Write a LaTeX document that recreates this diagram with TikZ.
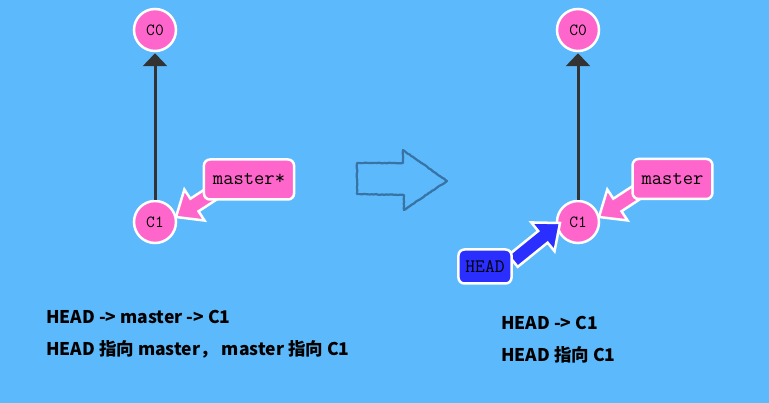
\documentclass[tikz,border=0pt]{standalone}
\usepackage{fontspec}
\newfontfamily\cjk{Noto Sans CJK SC}
\usetikzlibrary{calc,arrows.meta,decorations.pathmorphing}
\definecolor{bgc}{RGB}{92,186,252}
\definecolor{pinkc}{RGB}{255,102,204}
\definecolor{bluec}{RGB}{42,46,255}
\definecolor{edgec}{RGB}{51,51,51}
\definecolor{sketchc}{RGB}{55,115,165}
\pgfdeclarelayer{lowlayer}
\pgfdeclarelayer{midlayer}
\pgfsetlayers{lowlayer,midlayer,main}
\tikzset{
  commit/.style={circle, fill=pinkc, draw=white, line width=2.5pt, minimum size=42pt, inner sep=0pt,
    font=\ttfamily\fontsize{17}{17}\selectfont},
  branch/.style={rounded corners=6pt, draw=white, line width=2.5pt, fill=pinkc, minimum height=40pt,
    inner xsep=9pt, font=\ttfamily\fontsize{20}{20}\selectfont},
  headbox/.style={branch, fill=bluec, minimum height=34pt, inner xsep=7pt, font=\ttfamily\fontsize{19}{19}\selectfont},
  parent/.style={edgec, line width=3pt, -{Triangle[length=13pt,width=24pt]}, shorten >=1pt},
  caption/.style={anchor=base west, inner sep=0pt, font=\cjk\bfseries\fontsize{17.5}{17.5}\selectfont},
}
% #1 prefix, #2 colour, #3 start, #4 tip
\newcommand\fatarr[4]{%
  \coordinate (#1b) at ($(#4)!22pt!(#3)$);
  \filldraw[fill=#2, draw=white, line width=2.5pt, line join=miter]
    ($(#3)!7.5pt!90:(#4)$) -- ($(#1b)!7.5pt!90:(#4)$) -- ($(#1b)!18.5pt!90:(#4)$) -- (#4)
    -- ($(#1b)!18.5pt!-90:(#4)$) -- ($(#1b)!7.5pt!-90:(#4)$) -- ($(#3)!7.5pt!-90:(#4)$) -- cycle;
}
\begin{document}
\begin{tikzpicture}[x=1pt,y=-1pt]
\begin{pgfonlayer}{lowlayer}
  \fill[bgc] (0,0) rectangle (769,403);
  \useasboundingbox (0,0) rectangle (769,403);
  % left
  \node[commit] (c0l) at (155,30) {C0};
  \node[commit] (c1l) at (155,222) {C1};
  \draw[parent] (c1l) -- (c0l);
  % right
  \node[commit] (c0r) at (578,30) {C0};
  \node[commit] (c1r) at (578,222) {C1};
  \draw[parent] (c1r) -- (c0r);
\end{pgfonlayer}

\node[branch] (masterl) at (249,179.5) {master*};
\node[branch] (masterr) at (672.5,179) {master};
\node[headbox] (head) at (485,266.5) {HEAD};

\begin{pgfonlayer}{midlayer}
  \coordinate (sl) at ($(masterl.center)+(-23,5)$);
  \coordinate (tl) at ($(c1l.center)+(21,-5)$);
  \fatarr{al}{pinkc}{sl}{tl}
  \coordinate (sr) at ($(masterr.center)+(-23,5)$);
  \coordinate (tr) at ($(c1r.center)+(21,-5)$);
  \fatarr{ar}{pinkc}{sr}{tr}
  \coordinate (sh) at ($(head.center)+(28,-5.5)$);
  \coordinate (th) at ($(c1r.center)+(-18,1)$);
  \fatarr{ah}{bluec}{sh}{th}
\end{pgfonlayer}

% transition arrow
\draw[sketchc, line width=2.2pt, line join=round,
      decorate, decoration={random steps, segment length=2pt, amplitude=0.35pt}]
  (357,163) -- (403,163) -- (403,150) -- (447,181) -- (404,210) -- (404,195) -- (357,194) -- cycle;

% captions
\node[caption] (t1) at (46,324) {HEAD -> master -> C1};
\node[caption] (t2) at (46,356) {HEAD 指向 master，\ master 指向 C1};
\node[caption] (t3) at (501,330) {HEAD -> C1};
\node[caption] (t4) at (501,362) {HEAD 指向 C1};
\end{tikzpicture}
\end{document}
